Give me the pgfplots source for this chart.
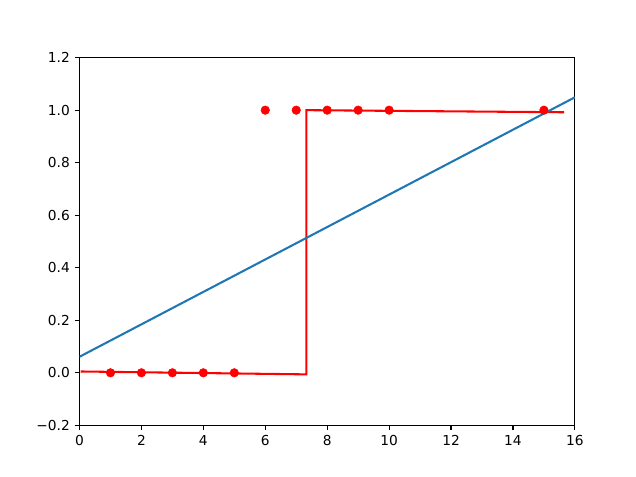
\documentclass[border=0pt]{standalone}
\usepackage{pgfplots}
\pgfplotsset{compat=1.18}
\usepackage{fontspec}
\setmainfont{DejaVu Sans}
\definecolor{mplblue}{HTML}{1F77B4}
\begin{document}
\begin{tikzpicture}
\begin{axis}[
    scale only axis,
    width=4.985in, height=3.70in,
    xmin=0, xmax=16, ymin=-0.2, ymax=1.2,
    xtick={0,2,4,6,8,10,12,14,16},
    ytick={-0.2,0,0.2,0.4,0.6,0.8,1.0,1.2},
    yticklabels={−0.2,0.0,0.2,0.4,0.6,0.8,1.0,1.2},
    /pgf/number format/assume math mode=true,
    tick label style={font=\fontsize{10}{12}\selectfont},
    tick align=outside, tick pos=left,
    major tick length=3.5pt,
    every tick/.style={black, line width=0.8pt},
    axis line style={line width=0.8pt},
]
% data points
\addplot[only marks, mark=*, mark size=3.1pt, color=red] coordinates {
    (1,0) (2,0) (3,0) (4,0) (5,0)
    (6,1) (7,1) (8,1) (9,1) (10,1) (15,1)
};
% step fit
\addplot[red, line width=1.5pt] coordinates {
    (0.04,0.005) (7.33,-0.006) (7.33,1.0) (15.65,0.992)
};
% straight-line fit
\addplot[mplblue, line width=1.5pt] coordinates {
    (0,0.061) (16,1.049)
};
\end{axis}
\path ([shift={(-0.80in,-0.52in)}]current axis.south west)
    rectangle ([shift={(0.615in,0.58in)}]current axis.north east);
\end{tikzpicture}
\end{document}
